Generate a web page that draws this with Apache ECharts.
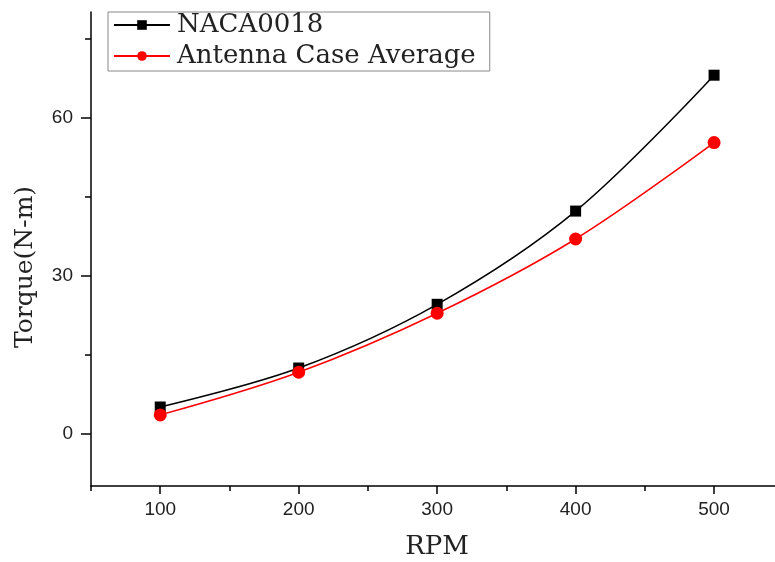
<!DOCTYPE html>
<html>
<head>
<meta charset="utf-8">
<script src="https://cdn.jsdelivr.net/npm/echarts@6/dist/echarts.min.js"></script>
<style>
  html, body { margin: 0; padding: 0; background: #fff; }
  #chart { width: 775px; height: 562px; }
</style>
</head>
<body>
<div id="chart"></div>
<script>
// Torque vs rotor speed for two blade profiles
const rpm = [100, 200, 300, 400, 500];
const naca0018 = [5.0, 12.4, 24.5, 42.2, 68.0];
const antennaAvg = [3.5, 11.6, 22.8, 36.9, 55.2];

const xMajorTicks = [100, 200, 300, 400, 500];
const xMinorTicks = [50, 150, 250, 350, 450];
const yMajorTicks = [0, 30, 60];
const yMinorTicks = [15, 45, 75];

const serif = '"DejaVu Serif", "Liberation Serif", serif';
const sans = '"Liberation Sans", Arial, sans-serif';

const chart = echarts.init(document.getElementById('chart'), null, { renderer: 'canvas' });

function xAxisDef(ticks, len, labels) {
  return {
    type: 'value', min: 50, max: 544, position: 'bottom',
    axisLine: { show: labels, onZero: false, lineStyle: { color: '#000', width: 1.5 } },
    axisTick: { show: true, inside: false, length: len, customValues: ticks,
      lineStyle: { color: '#000', width: 1.5 } },
    axisLabel: { show: labels, customValues: labels ? xMajorTicks : [], margin: 14,
      fontFamily: sans, fontSize: 19, color: '#222' },
    splitLine: { show: false },
    name: labels ? 'RPM' : '', nameLocation: 'middle', nameGap: 48,
    nameTextStyle: { fontFamily: serif, fontSize: 26, color: '#222', padding: [0, 0, 0, 8] }
  };
}

function yAxisDef(ticks, len, labels) {
  return {
    type: 'value', min: -10, max: 80, position: 'left',
    axisLine: { show: labels, onZero: false, lineStyle: { color: '#000', width: 1.5 } },
    axisTick: { show: true, inside: false, length: len, customValues: ticks,
      lineStyle: { color: '#000', width: 1.5 } },
    axisLabel: { show: labels, customValues: labels ? yMajorTicks : [], margin: 18,
      fontFamily: sans, fontSize: 19, color: '#222' },
    splitLine: { show: false }
  };
}

chart.setOption({
  animation: false,
  backgroundColor: '#fff',
  textStyle: { fontFamily: sans },
  grid: { left: 91, right: 0, top: 12, bottom: 76, containLabel: false, outerBoundsMode: 'none' },
  xAxis: [xAxisDef(xMajorTicks, 8, true), xAxisDef(xMinorTicks, 5, false)],
  yAxis: [yAxisDef(yMajorTicks, 10, true), yAxisDef(yMinorTicks, 6, false)],
  graphic: [{
    type: 'text', x: 25, y: 267, rotation: Math.PI / 2,
    style: { text: 'Torque(N-m)', fontFamily: serif, fontSize: 25, fill: '#222',
      align: 'center', verticalAlign: 'middle' }
  }],
  legend: {
    left: 108, top: 12, orient: 'vertical',
    padding: [0, 14, 2, 5], itemGap: 5,
    itemWidth: 56, itemHeight: 12,
    borderColor: '#888', borderWidth: 1, backgroundColor: '#fff',
    textStyle: { fontFamily: serif, fontSize: 26, lineHeight: 26, color: '#222', padding: [0, 0, 0, 2] },
    data: ['NACA0018', 'Antenna Case Average']
  },
  series: [
    {
      name: 'NACA0018', type: 'line', smooth: 0.35,
      data: rpm.map((r, i) => [r, naca0018[i]]),
      symbol: 'rect', symbolSize: 11,
      itemStyle: { color: '#000' },
      lineStyle: { color: '#000', width: 1.5 }
    },
    {
      name: 'Antenna Case Average', type: 'line', smooth: 0.35,
      data: rpm.map((r, i) => [r, antennaAvg[i]]),
      symbol: 'circle', symbolSize: 13,
      itemStyle: { color: '#f00' },
      lineStyle: { color: '#f00', width: 1.5 }
    }
  ]
});
</script>
</body>
</html>
